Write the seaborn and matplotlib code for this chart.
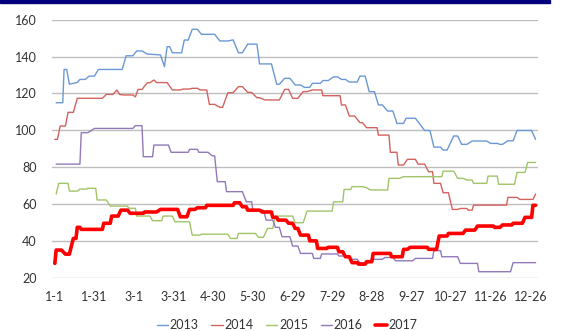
import numpy as np
import pandas as pd
import seaborn as sns
import matplotlib.pyplot as plt
from matplotlib.patches import Rectangle

# dados (dia do ano, valor)
days_2013 = [1, 6, 7, 9, 11, 17, 19, 23, 26, 30, 33, 51, 54, 59, 62, 66, 70, 77, 80, 83,
             85, 87, 89, 96, 98, 101, 104, 108, 111, 121, 125, 131, 135, 139, 142, 146, 153, 155, 164, 168,
             170, 174, 178, 182, 186, 189, 193, 195, 201, 203, 207, 211, 214, 217, 220, 223, 229, 231, 235, 238,
             242, 245, 248, 252, 256, 259, 264, 266, 273, 280, 284, 287, 292, 294, 297, 302, 305, 308, 312, 316,
             327, 330, 335, 337, 339, 343, 347, 350, 361, 364]
vals_2013 = [115, 115, 133, 133, 125, 126, 127.6, 127.6, 129.4, 129.4, 133, 133, 140.4, 140.4, 143, 143, 141.3, 141, 140.8, 134.5,
             145.3, 145.3, 142, 142, 148.9, 148.9, 154.7, 154.7, 152, 152, 148.4, 148.4, 149, 142, 142, 146.7, 146.7, 136, 136, 125,
             125, 128.2, 128.2, 124.6, 124.6, 123.3, 123.3, 125.5, 125.5, 127, 127, 129, 129, 127.6, 127.6, 126.2, 126.2, 129.4, 129.4, 121,
             121, 113.8, 113.8, 110.5, 110.5, 103.8, 103.8, 106.6, 106.6, 100, 100, 91, 91, 89.4, 89.4, 97, 97, 92.5, 92.5, 94.3,
             94.3, 93, 93, 92.5, 92.5, 94.4, 94.4, 100, 100, 95.2]

days_2014 = [0, 2, 4, 8, 10, 14, 17, 36, 39, 44, 47, 49, 52, 59, 61, 63, 66, 70, 72, 75,
             77, 85, 89, 95, 97, 102, 104, 108, 110, 115, 117, 121, 125, 127, 131, 135, 139, 142, 146, 149,
             153, 155, 159, 170, 174, 177, 180, 184, 188, 191, 195, 202, 203, 216, 217, 220, 223, 227, 231, 233,
             236, 244, 245, 253, 254, 259, 260, 264, 267, 273, 275, 280, 283, 286, 287, 292, 294, 298, 301, 305,
             307, 312, 313, 316, 317, 342, 343, 350, 352, 362, 364]
vals_2014 = [95.2, 95.2, 102.4, 102.4, 109.8, 109.8, 117.4, 117.4, 119.5, 119.5, 121.9, 119.5, 119.2, 119.2, 118.2, 122.2, 122.2, 125.8, 125.8, 127.3,
             125.9, 125.9, 121.9, 121.9, 122.4, 122.4, 122.8, 122.8, 121.9, 121.9, 114.1, 114.1, 112.5, 112.5, 120.4, 120.4, 123.7, 123.7, 120.6, 120.6,
             117.7, 117.7, 116.5, 116.5, 122.2, 122.2, 117.4, 117.4, 121, 121, 121.9, 121.9, 118.8, 118.8, 113.8, 113.8, 107.8, 107.8, 104.2, 104.2,
             101.5, 101.5, 97.5, 97.5, 88.2, 88.2, 81.3, 81.3, 84.4, 84.4, 81.8, 81.8, 77.7, 77.7, 71.4, 71.4, 66.3, 66.3, 57.3, 57.3,
             57.8, 57.8, 56.9, 56.9, 59.6, 59.6, 63.8, 63.8, 62.7, 62.7, 65.6]

days_2015 = [1, 3, 10, 11, 17, 19, 24, 25, 31, 32, 39, 42, 55, 56, 61, 62, 72, 74, 81, 82,
             89, 91, 102, 104, 110, 111, 131, 133, 138, 139, 152, 154, 158, 161, 165, 167, 180, 182, 188, 191,
             210, 211, 218, 219, 224, 225, 233, 236, 239, 252, 253, 261, 264, 293, 294, 302, 305, 309, 312, 316,
             317, 327, 328, 335, 336, 348, 350, 356, 358, 364]
vals_2015 = [65.6, 71.4, 71.4, 67.2, 67.2, 68.3, 68.3, 68.7, 68.7, 62.4, 62.4, 59.1, 59.1, 57.9, 57.9, 53.7, 53.7, 51.2, 51.2, 53.7,
             53.7, 50.6, 50.6, 43.4, 43.4, 43.9, 43.9, 41.6, 41.6, 44.3, 44.3, 42.2, 42.2, 47, 47, 53.7, 53.7, 50.1, 50.1, 56.4,
             56.4, 61.4, 61.4, 68.1, 68.1, 69.6, 69.6, 69, 67.8, 67.8, 74.1, 74.1, 75, 75, 78, 78, 74.1, 74.1, 73.2, 73.2,
             71.4, 71.4, 75.3, 75.3, 70.9, 70.9, 77.3, 77.3, 82.7, 82.7]

days_2016 = [1, 19, 20, 25, 30, 59, 61, 66, 67, 74, 75, 86, 88, 101, 102, 108, 109, 116, 119, 121,
             123, 129, 130, 142, 145, 149, 150, 158, 160, 165, 167, 170, 172, 178, 180, 184, 186, 195, 196, 201,
             202, 214, 215, 222, 224, 229, 231, 238, 240, 248, 250, 256, 258, 271, 273, 286, 287, 292, 293, 305,
             307, 320, 321, 345, 347, 364]
vals_2016 = [81.8, 81.8, 98.8, 98.8, 101.1, 101.1, 102.6, 102.6, 85.8, 85.8, 92.1, 92.1, 88.2, 88.2, 89.8, 89.8, 88.2, 88.2, 86.3, 86.3,
             72.3, 72.3, 66.9, 66.9, 61.4, 61.4, 56.9, 56.9, 51.5, 51.5, 47.6, 47.6, 42.5, 42.5, 37.5, 37.5, 33.5, 33.5, 30.8, 30.8,
             33.2, 33.2, 32.1, 32.1, 30.3, 30.3, 28.5, 28.5, 30.3, 30.3, 31.3, 31.3, 29.5, 29.5, 30.8, 30.8, 35, 35, 31.7, 31.7,
             28.1, 28.1, 23.6, 23.6, 28.5, 28.5]

days_2017 = [0, 1, 5, 8, 11, 14, 16, 17, 19, 20, 36, 37, 42, 43, 48, 50, 55, 57, 67, 68,
             77, 80, 93, 95, 100, 102, 106, 108, 114, 115, 135, 136, 140, 142, 145, 146, 155, 157, 164, 165,
             168, 169, 175, 177, 180, 182, 184, 186, 192, 193, 198, 199, 206, 207, 214, 215, 218, 220, 223, 225,
             229, 230, 235, 236, 240, 241, 254, 255, 263, 264, 267, 269, 282, 283, 289, 291, 297, 298, 309, 311,
             318, 320, 332, 333, 337, 339, 346, 347, 354, 356, 361, 362, 364]
vals_2017 = [28.1, 35.3, 35.3, 33.1, 33.1, 41.6, 41.6, 47.6, 47.6, 46.5, 46.5, 49.8, 49.8, 53.7, 53.7, 56.9, 56.9, 55.2, 55.2, 55.9,
             55.9, 57.3, 57.3, 53.3, 53.3, 57.3, 57.3, 58.2, 58.2, 59.5, 59.5, 60.9, 60.9, 58.7, 58.7, 56.9, 56.9, 55.9, 55.9, 53,
             53, 51.5, 51.5, 49.8, 49.8, 47, 47, 43.4, 43.4, 40.3, 40.3, 36.2, 36.2, 36.8, 36.8, 34.4, 34.4, 31.7, 31.7, 28.5,
             28.5, 27.7, 27.7, 29, 29, 33.5, 33.5, 31.7, 31.7, 35.7, 35.7, 36.8, 36.8, 35.7, 35.7, 42.9, 42.9, 44.3, 44.3, 46.1,
             46.1, 48.3, 48.3, 47.6, 47.6, 48.9, 48.9, 49.8, 49.8, 53, 53, 59.5, 59.5]

tick_days = [0, 30, 60, 90, 120, 150, 180, 210, 240, 270, 300, 330, 360]
tick_labels = ['1-1', '1-31', '3-1', '3-31', '4-30', '5-30', '6-29', '7-29',
               '8-28', '9-27', '10-27', '11-26', '12-26']

series = [
    ('2013', days_2013, vals_2013, '#6A98D6', 1.0),
    ('2014', days_2014, vals_2014, '#D4625E', 1.0),
    ('2015', days_2015, vals_2015, '#A2C468', 1.0),
    ('2016', days_2016, vals_2016, '#9179BA', 1.0),
    ('2017', days_2017, vals_2017, '#FF0000', 2.6),
]

sns.set_style('white')
plt.rcParams['font.family'] = ['Lato', 'DejaVu Sans']

fig = plt.figure(figsize=(5.63, 3.31), dpi=100)
ax = fig.add_axes([0.092, 0.159, 0.864, 0.782])

for nome, d, v, cor, lw in series:
    df = pd.DataFrame({'dia': d, 'valor': v})
    sns.lineplot(data=df, x='dia', y='valor', ax=ax, color=cor, lw=lw,
                 label=nome, sort=False, estimator=None)

ax.set_xlim(-2.3, 366)
ax.set_ylim(20, 160)
ax.set_yticks(range(20, 161, 20))
ax.set_xticks(tick_days)
ax.set_xticklabels(tick_labels)
ax.set_xlabel('')
ax.set_ylabel('')
ax.grid(axis='y', color='#BEBEBE', lw=1.0)
ax.set_axisbelow(True)
for s in ax.spines.values():
    s.set_visible(False)
ax.tick_params(axis='y', length=0, pad=11, labelsize=9, labelcolor='#333333')
ax.tick_params(axis='x', length=0, pad=9, labelsize=9, labelcolor='#333333')

leg = ax.legend(loc='center', bbox_to_anchor=(0.51, 0.018), bbox_transform=fig.transFigure,
                ncol=5, frameon=False, fontsize=9, handlelength=0.9, handletextpad=0.15,
                columnspacing=1.0)
for t in leg.get_texts():
    t.set_color('#333333')

# faixa azul escura no topo
fig.patches.append(Rectangle((0, 1 - 3 / 331), 550 / 563, 3 / 331, transform=fig.transFigure,
                             color='#00007F', zorder=5))

fig.savefig('out.png', dpi=100)
